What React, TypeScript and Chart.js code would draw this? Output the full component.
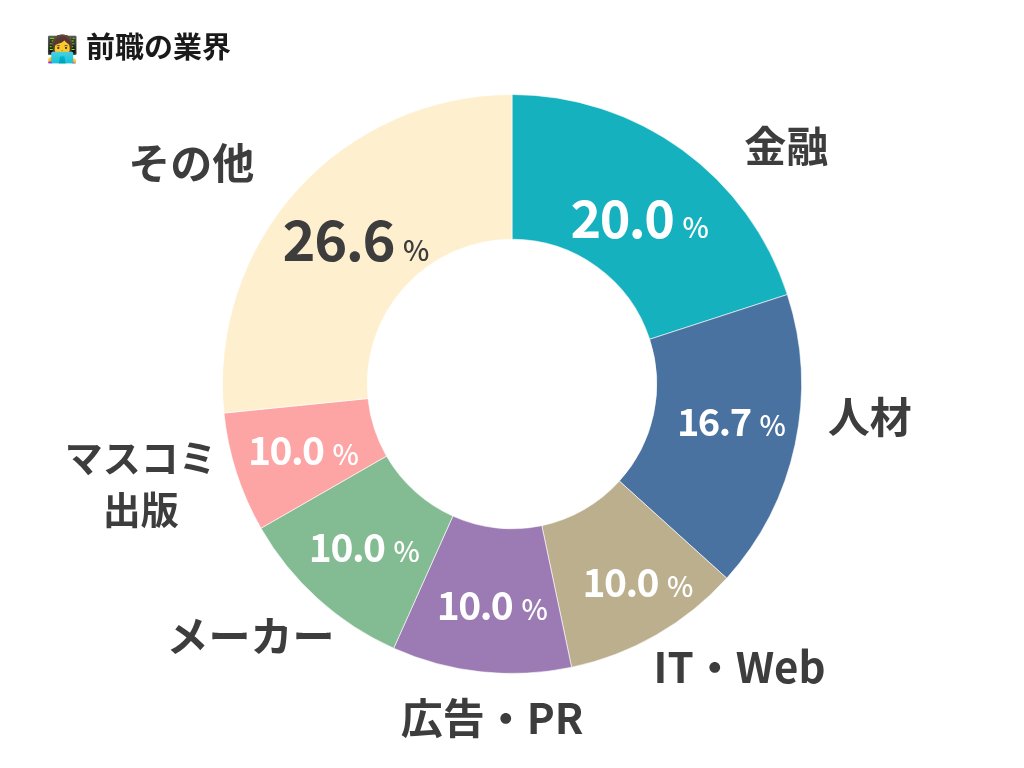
import React, { useEffect, useRef } from "react";
import { Chart, registerables } from "chart.js";

Chart.register(...registerables);

const categories = ["金融", "人材", "IT・Web", "広告・PR", "メーカー", "マスコミ\n出版", "その他"];
const shares = [20, 16.7, 10, 10, 10, 6.7, 26.6];
const valueLabels = ["20.0", "16.7", "10.0", "10.0", "10.0", "10.0", "26.6"];

const sliceColors = ["#16b1bf", "#4a72a0", "#bbaf8e", "#9c7bb4", "#83bb92", "#fda5a5", "#fef0cf"];
const valueColors = ["#ffffff", "#ffffff", "#ffffff", "#ffffff", "#ffffff", "#ffffff", "#3d3d3d"];
const valueFontSizes = [52, 38, 39, 39, 39, 39, 56];
const valueAngleShift = [1.6, -2.3, -2.5, -1, 0, 0, 0.5];
const valueRadiusShift = [-8, 5.5, 18, 5, 3, 2, -5];
const labelAngleShift = [13, -6.8, -8.9, -2.7, 3.9, 2.8, -7.6];
const labelRadiusFactor = [1.255, 1.241, 1.255, 1.155, 1.255, 1.328, 1.345];
const labelFontSizes = [42, 42, 42, 42, 42, 38, 42];

const FONT = '"Noto Sans CJK JP", "Noto Sans", sans-serif';
const TEXT_COLOR = "#3d3d3d";

const labelPlugin = {
  id: "sliceLabels",
  afterDatasetsDraw(chart: any) {
    const ctx = chart.ctx;
    const meta = chart.getDatasetMeta(0);
    meta.data.forEach((arc: any, i: number) => {
      const { x, y, startAngle, endAngle, innerRadius, outerRadius } = arc.getProps(
        ["x", "y", "startAngle", "endAngle", "innerRadius", "outerRadius"],
        true
      );
      const mid = (startAngle + endAngle) / 2;
      // value label
      const va = mid + (valueAngleShift[i] * Math.PI) / 180;
      const vr = (innerRadius + outerRadius) / 2 + valueRadiusShift[i];
      const vx = x + Math.cos(va) * vr;
      const vy = y + Math.sin(va) * vr;
      const numSize = valueFontSizes[i];
      const pctSize = 28;
      const gap = 9;
      ctx.save();
      ctx.textBaseline = "alphabetic";
      ctx.textAlign = "left";
      ctx.fillStyle = valueColors[i];
      ctx.font = `bold ${numSize}px ${FONT}`;
      (ctx as any).letterSpacing = "-1.5px";
      const wN = ctx.measureText(valueLabels[i]).width;
      (ctx as any).letterSpacing = "0px";
      ctx.font = `500 ${pctSize}px ${FONT}`;
      const wP = ctx.measureText("%").width;
      const total = wN + gap + wP;
      const x0 = vx - total / 2;
      const base = vy + numSize * 0.37;
      ctx.font = `bold ${numSize}px ${FONT}`;
      (ctx as any).letterSpacing = "-1.5px";
      ctx.fillText(valueLabels[i], x0, base);
      (ctx as any).letterSpacing = "0px";
      ctx.font = `500 ${pctSize}px ${FONT}`;
      ctx.fillText("%", x0 + wN + gap, base);
      ctx.restore();

      // category label
      const la = mid + (labelAngleShift[i] * Math.PI) / 180;
      const lr = outerRadius * labelRadiusFactor[i];
      const lx = x + Math.cos(la) * lr;
      const ly = y + Math.sin(la) * lr;
      const lines = categories[i].split("\n");
      const lh = 52;
      ctx.save();
      ctx.fillStyle = TEXT_COLOR;
      ctx.textAlign = "center";
      ctx.textBaseline = "middle";
      ctx.font = `bold ${labelFontSizes[i]}px ${FONT}`;
      lines.forEach((line, j) => {
        const ly2 = ly + (j - (lines.length - 1) / 2) * lh;
        ctx.fillText(line, lx, ly2);
      });
      ctx.restore();
    });
  },
};

export default function App() {
  const canvasRef = useRef<HTMLCanvasElement | null>(null);

  useEffect(() => {
    if (!canvasRef.current) return;
    const chart = new Chart(canvasRef.current, {
      type: "doughnut",
      data: {
        labels: categories,
        datasets: [
          {
            data: shares,
            backgroundColor: sliceColors,
            borderColor: "rgba(255,255,255,0.6)",
            borderWidth: 1,
            hoverOffset: 0,
            offset: 0,
          },
        ],
      },
      options: {
        responsive: false,
        animation: false,
        events: [],
        cutout: "50%",
        layout: { padding: { top: 94, bottom: 94, left: 100, right: 100 } },
        plugins: {
          legend: { display: false },
          tooltip: { enabled: false },
          title: { display: false },
        },
      },
      plugins: [labelPlugin],
    });
    return () => chart.destroy();
  }, []);

  return (
    <div style={{ position: "absolute", left: 0, top: 0, width: 1024, height: 768, background: "#ffffff" }}>
      <div
        style={{
          position: "absolute",
          left: 46,
          top: 31,
          fontFamily: FONT,
          fontWeight: 700,
          fontSize: 29,
          lineHeight: "29px",
          color: "#1a1a1a",
          whiteSpace: "nowrap",
        }}
      >
        <span style={{ fontSize: 26, marginRight: 8 }}>👩‍💻</span>
        前職の業界
      </div>
      <canvas ref={canvasRef} width={1024} height={768} style={{ display: "block" }} />
    </div>
  );
}
